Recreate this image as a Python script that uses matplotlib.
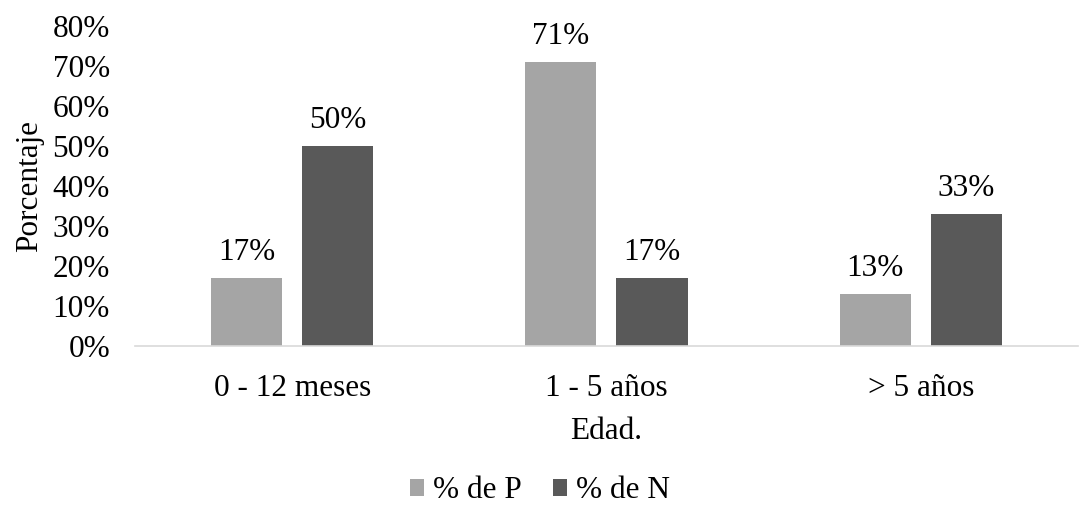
import matplotlib.pyplot as plt
import numpy as np
from matplotlib.ticker import PercentFormatter

categories = ["0 - 12 meses", "1 - 5 años", "> 5 años"]
pct_p = [17, 71, 13]
pct_n = [50, 17, 33]
series_names = ["% de P", "% de N"]

FS = 22.5
plt.rcParams.update({"font.family": "Liberation Serif", "font.size": FS})

fig = plt.figure(figsize=(10.8, 5.15), dpi=100)
ax = fig.add_axes([0.125, 0.328, 0.873, 0.622])

x = np.arange(len(categories))
w = 0.226
off = 0.145
bars_p = ax.bar(x - off, pct_p, w, color="#A5A5A5", label=series_names[0])
bars_n = ax.bar(x + off, pct_n, w, color="#595959", label=series_names[1])

for bars, vals in ((bars_p, pct_p), (bars_n, pct_n)):
    for b, v in zip(bars, vals):
        ax.annotate(f"{v}%", (b.get_x() + b.get_width() / 2, v),
                    textcoords="offset points", xytext=(0, 8),
                    ha="center", va="bottom", fontsize=FS)

ax.set_xlim(-0.5, 2.5)
ax.set_ylim(0, 80)
ax.set_yticks(range(0, 81, 10))
ax.yaxis.set_major_formatter(PercentFormatter(decimals=0))
ax.set_xticks(x)
ax.set_xticklabels(categories)
ax.tick_params(axis="both", length=0, labelsize=FS)
ax.tick_params(axis="x", pad=20)
ax.tick_params(axis="y", pad=18)

for s in ("top", "right", "left"):
    ax.spines[s].set_visible(False)
ax.spines["bottom"].set_color("#D9D9D9")
ax.spines["bottom"].set_linewidth(1.2)

ax.set_xlabel("Edad.", fontsize=FS, labelpad=10)
ax.set_ylabel("Porcentaje", fontsize=FS, labelpad=6)

fig.legend(loc="center", bbox_to_anchor=(0.5, 0.047), ncol=2, frameon=False,
           fontsize=FS, handlelength=0.45, handleheight=0.45, handletextpad=0.3,
           columnspacing=1.0)

fig.savefig("out.png", dpi=100)
